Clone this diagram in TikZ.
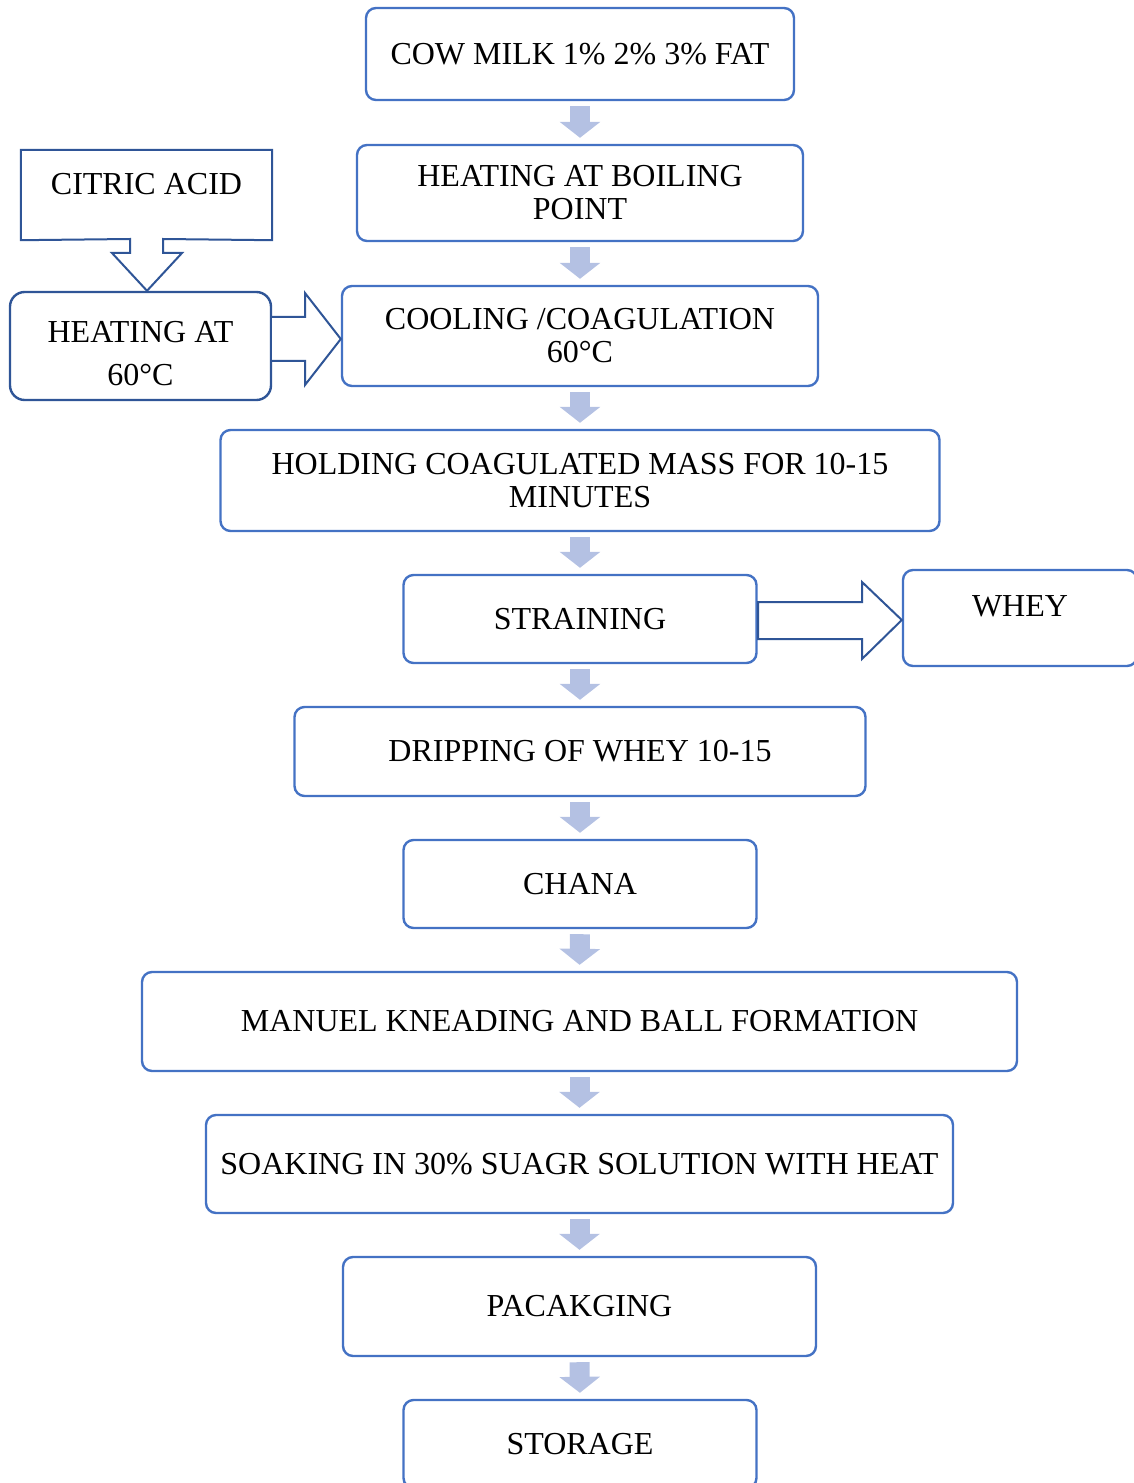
\documentclass[tikz,border=0pt]{standalone}
\usepackage{fontspec}
\setmainfont{Liberation Serif}
\usetikzlibrary{arrows.meta,calc}
\definecolor{boxblue}{HTML}{4472C4}
\definecolor{darkblue}{HTML}{2F5597}
\definecolor{stepfill}{HTML}{B4C1E3}

\begin{document}
\begin{tikzpicture}[x=0.75pt,y=-0.75pt,
  stage/.style={draw=boxblue, line width=1.8pt, rounded corners=7.5pt,
    align=center, inner sep=0pt, fill=white,
    font=\fontsize{24}{24.75}\selectfont},
  side/.style={stage, draw=darkblue, rounded corners=11pt},
  flow/.style={draw=stepfill, line width=15pt,
    -{Triangle[width=30pt,length=12pt]},
    shorten <=3.75pt, shorten >=4.5pt},
  fat/.style={draw=darkblue, line width=1.5pt, fill=white, line join=miter}]

\useasboundingbox (0,0) rectangle (1133,1483);

% main column of process steps
\node[stage, minimum width=321pt,    minimum height=69pt]    (milk)   at (580,54)     {COW MILK 1\% 2\% 3\% FAT};
\node[stage, minimum width=334.5pt,  minimum height=72pt]    (boil)   at (580,193)    {HEATING AT BOILING\\POINT};
\node[stage, minimum width=357pt,    minimum height=75pt]    (cool)   at (580,336)    {COOLING /COAGULATION\\60°C};
\node[stage, minimum width=539.25pt, minimum height=75.75pt] (hold)   at (580,480.5)  {HOLDING COAGULATED MASS FOR 10-15\\MINUTES};
\node[stage, minimum width=264.75pt, minimum height=66pt]    (strain) at (580,619)    {STRAINING};
\node[stage, minimum width=428.25pt, minimum height=66.75pt] (drip)   at (580,751.5)  {DRIPPING OF WHEY 10-15};
\node[stage, minimum width=264.75pt, minimum height=66pt]    (chana)  at (580,884)    {CHANA};
\node[stage, minimum width=656.25pt, minimum height=74.25pt] (knead)  at (579.5,1021.5) {MANUEL KNEADING AND BALL FORMATION};
\node[stage, minimum width=560.25pt, minimum height=73.5pt]  (soak)   at (579.5,1164) {SOAKING IN 30\% SUAGR SOLUTION WITH HEAT};
\node[stage, minimum width=354.75pt, minimum height=74.25pt] (pack)   at (579.5,1306.5) {PACAKGING};
\node[stage, minimum width=264.75pt, minimum height=66pt]    (store)  at (580,1444)   {STORAGE};

% side branches
\node[stage, minimum width=175.5pt, minimum height=72pt, text depth=18pt] (whey) at (1020,618) {WHEY};
\node[stage, draw=none, fill=none, minimum width=186.75pt, minimum height=66pt] (citric) at (146.5,195) {};
\node[side, minimum width=195.75pt, minimum height=81pt, text height=59pt,
      font=\fontsize{24}{32}\selectfont] (heat) at (140.5,346) {HEATING AT\\60°C};

% citric acid box with its down-pointing callout
\draw[fat] (citric.north west) -- (citric.north east) -- (citric.south east)
  -- (163,239) -- (163,253) -- (182,253) -- (heat.north -| 147,0)
  -- (112,253) -- (130,253) -- (130,239) -- (citric.south west) -- cycle;
\node[font=\fontsize{24}{24.75}\selectfont, text depth=16.5pt, inner sep=0pt] at (citric) {CITRIC ACID};

% block arrows into the coagulation step and out to the whey
\draw[fat] (heat.east |- 0,317) -- (305,317) -- (305,293) -- (cool.west |- 0,339)
  -- (305,385) -- (305,361) -- (heat.east |- 0,361);
\draw[fat] (758,602) -- (862,602) -- (862,582) -- (whey.west |- 0,620)
  -- (862,659) -- (862,639) -- (758,639) -- cycle;

% flow arrows between consecutive steps
\foreach \a/\b in {milk/boil, boil/cool, cool/hold, hold/strain, strain/drip,
                   drip/chana, chana/knead, knead/soak, soak/pack, pack/store}
  \draw[flow] (\a.south) -- (\b.north);

\end{tikzpicture}
\end{document}
